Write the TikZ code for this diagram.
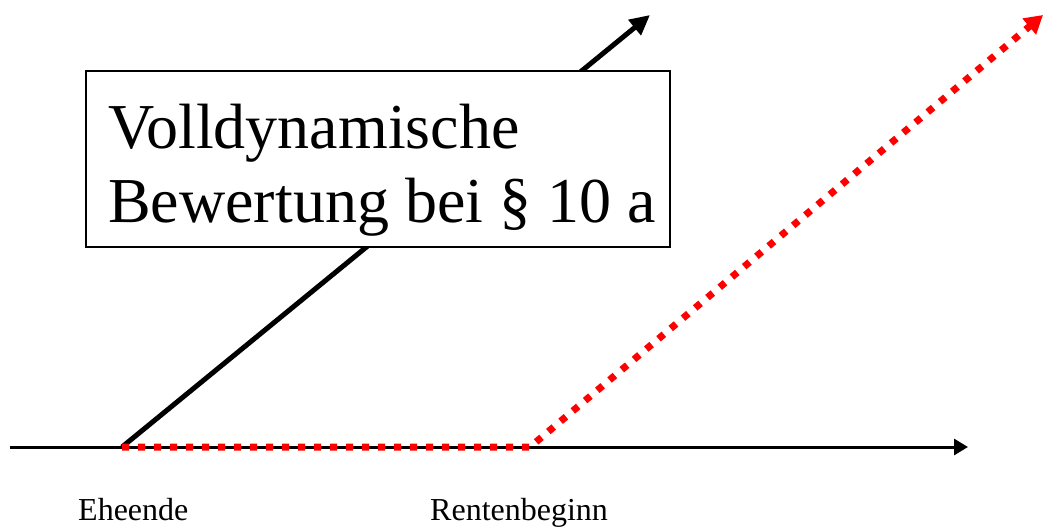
\documentclass[tikz,border=0pt]{standalone}
\usepackage{fontspec}
\setmainfont{Liberation Serif}
\usetikzlibrary{arrows.meta}
\begin{document}
\begin{tikzpicture}[x=1pt,y=-1pt,
  axisline/.style={line width=3pt,-{Triangle[length=14pt,width=16pt]}},
  blackline/.style={line width=5pt,-{Triangle[length=20pt,width=19pt]}},
  redline/.style={red,line width=7pt,dash pattern=on 7pt off 9pt,-{Triangle[length=18pt,width=20pt]}},
  boxstyle/.style={draw,fill=white,line width=2pt,minimum width=584pt,minimum height=176pt,inner sep=0pt},
  titlestyle/.style={align=left,inner sep=0pt,font=\fontsize{64}{74}\selectfont},
  lbl/.style={inner sep=0pt,font=\fontsize{32}{36}\selectfont}]
\useasboundingbox (0,0) rectangle (1045,527);
\coordinate (a0) at (10,447);
\coordinate (a1) at (968,447);
\coordinate (o) at (122,447);
\coordinate (bt) at (650,15);
\coordinate (rc) at (530,447);
\coordinate (rt) at (1043,15);
\draw[axisline] (a0) -- (a1);
\draw[blackline] (o) -- (bt);
\draw[redline] (o) -- (rc) -- (rt);
\node[boxstyle] (box) at (378,159) {};
\node[titlestyle,anchor=base west] (title) at (108,222) {Volldynamische\\Bewertung bei § 10 a};
\node[lbl,anchor=base west] (ehe) at (78,520) {Eheende};
\node[lbl,anchor=base west] (rente) at (430,520) {Rentenbeginn};
\end{tikzpicture}
\end{document}
